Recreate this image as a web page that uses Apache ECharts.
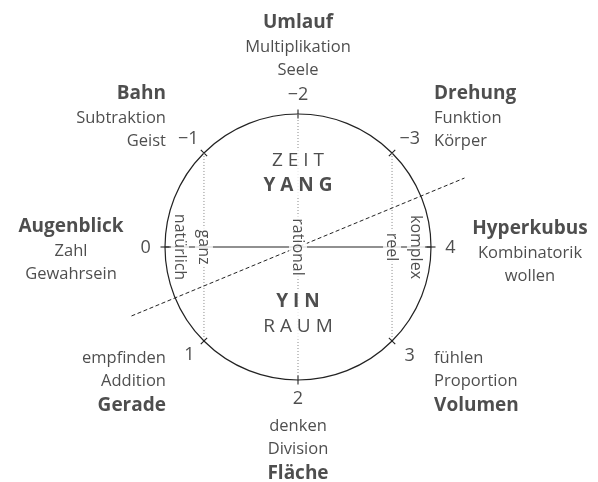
<!DOCTYPE html>
<html>
<head>
<meta charset="utf-8">
<script src="https://cdn.jsdelivr.net/npm/echarts@6/dist/echarts.min.js"></script>
<style>html,body{margin:0;padding:0;background:#fff}#c{width:598px;height:482px}</style>
</head>
<body>
<div id="c"></div>
<script>
// ---- data ----
// the eight points on the circle, clockwise starting at the left (index k -> angle 180-45k deg)
const pointLabels = ['0', '\u22121', '\u22122', '\u22123', '4', '3', '2', '1'];
const titles = ['Augenblick', 'Bahn', 'Umlauf', 'Drehung', 'Hyperkubus', 'Volumen', 'Fl\u00e4che', 'Gerade'];
const operations = ['Zahl', 'Subtraktion', 'Multiplikation', 'Funktion', 'Kombinatorik', 'Proportion', 'Division', 'Addition'];
const faculties = ['Gewahrsein', 'Geist', 'Seele', 'K\u00f6rper', 'wollen', 'f\u00fchlen', 'denken', 'empfinden'];
// chords between points (index pairs)
const dottedChords = [[1, 7], [2, 6], [3, 5]];
const solidChords = [[0, 4]];
// number sets along the horizontal diameter
const numberSets = ['nat\u00fcrlich', 'ganz', 'rational', 'reel', 'komplex'];
const numberSetX = [-0.887, -Math.SQRT1_2, 0, Math.SQRT1_2, 0.887];
// centre words
const yangWords = ['ZEIT', 'YANG'];
const yinWords = ['YIN', 'RAUM'];
const yangY = 0.556, yinY = -0.508;
// diagonal (degrees, half length in radii)
const diagonalAngle = 22.5, diagonalExtent = 1.355;

// ---- helpers ----
const FONT = '"Open Sans", "DejaVu Sans", sans-serif';
const INK = '#222';
function pt(k, r) {
  const a = (180 - 45 * k) * Math.PI / 180;
  return [r * Math.cos(a), r * Math.sin(a)];
}
function segmentSeries(segs, lineStyle, z) {
  return {
    type: 'custom', z: z, silent: true,
    data: segs,
    encode: { x: [0, 2], y: [1, 3] },
    renderItem: function (params, api) {
      const p1 = api.coord([api.value(0), api.value(1)]);
      const p2 = api.coord([api.value(2), api.value(3)]);
      return { type: 'line', shape: { x1: p1[0], y1: p1[1], x2: p2[0], y2: p2[1] }, style: lineStyle };
    }
  };
}

const chordSegs = (list) => list.map(([a, b]) => pt(a, 1).concat(pt(b, 1)));
const da = diagonalAngle * Math.PI / 180;
const diagSeg = [[-diagonalExtent * Math.cos(da), -diagonalExtent * Math.sin(da), diagonalExtent * Math.cos(da), diagonalExtent * Math.sin(da)]];

// label layout (styles)
const blockLayout = [
  { dx: -94, dy: 3, align: 'center', titleFirst: true },
  { dx: -38, dy: -36.5, align: 'right', titleFirst: true },
  { dx: 0, dy: -68.5, align: 'center', titleFirst: true },
  { dx: 42, dy: -36.5, align: 'left', titleFirst: true },
  { dx: 99, dy: 4.5, align: 'center', titleFirst: true },
  { dx: 42, dy: 41.5, align: 'left', titleFirst: false },
  { dx: 0, dy: 71, align: 'center', titleFirst: false },
  { dx: -38, dy: 41.5, align: 'right', titleFirst: false }
];
const numberOffset = [[0, 1], [-2, 0], [0, 0], [4, 0], [0, 1], [4, 1], [0, 0], [-1, 0]];
const richBlock = {
  t: { fontFamily: FONT, fontWeight: 'bold', fontSize: 19, lineHeight: 26, color: INK },
  s: { fontFamily: FONT, fontSize: 16.5, lineHeight: 23, color: INK }
};

const blockData = titles.map((t, k) => {
  const L = blockLayout[k];
  const lines = L.titleFirst
    ? ['{t|' + t + '}', '{s|' + operations[k] + '}', '{s|' + faculties[k] + '}']
    : ['{s|' + faculties[k] + '}', '{s|' + operations[k] + '}', '{t|' + t + '}'];
  return {
    value: pt(k, 1),
    label: { formatter: lines.join('\n'), offset: [L.dx, L.dy], align: L.align }
  };
});

const numberData = pointLabels.map((l, k) => ({ value: pt(k, 1.145), name: l, label: { offset: numberOffset[k] } }));
const setData = numberSets.map((n, i) => ({ value: [numberSetX[i], 0], name: n }));

const centerData = [
  { value: [0, yangY], label: { formatter: '{r|' + yangWords[0].split('').join(' ') + '}\n{b|' + yangWords[1].split('').join(' ') + '}' } },
  { value: [0, yinY], label: { formatter: '{b|' + yinWords[0].split('').join(' ') + '}\n{r|' + yinWords[1].split('').join(' ') + '}' } }
];

const W = 598, H = 482, CX = 298, CY = 247, RPX = 133;

const option = {
  animation: false,
  backgroundColor: '#fff',
  grid: { left: 0, right: 0, top: 0, bottom: 0 },
  xAxis: { type: 'value', min: -CX / RPX, max: (W - CX) / RPX, show: false },
  yAxis: { type: 'value', min: -(H - CY) / RPX, max: CY / RPX, show: false },
  series: [
    // circle
    {
      type: 'custom', z: 1, silent: true, data: [[0, 0]],
      renderItem: function (params, api) {
        const c = api.coord([0, 0]);
        const r = api.size([1, 1])[0];
        return { type: 'circle', shape: { cx: c[0], cy: c[1], r: r }, style: { fill: 'none', stroke: INK, lineWidth: 1.2 } };
      }
    },
    // radial ticks
    {
      type: 'custom', z: 1, silent: true,
      data: pointLabels.map((l, k) => pt(k, 1)),
      renderItem: function (params, api) {
        const c = api.coord([0, 0]);
        const p = api.coord([api.value(0), api.value(1)]);
        const dx = p[0] - c[0], dy = p[1] - c[1];
        const len = Math.sqrt(dx * dx + dy * dy);
        const ux = dx / len, uy = dy / len;
        return { type: 'line', shape: { x1: p[0] - 4.5 * ux, y1: p[1] - 4.5 * uy, x2: p[0] + 4.5 * ux, y2: p[1] + 4.5 * uy }, style: { stroke: INK, lineWidth: 1.1 } };
      }
    },
    segmentSeries(chordSegs(dottedChords), { stroke: '#8a8a8a', lineWidth: 1, lineDash: [1, 2] }, 1),
    segmentSeries(chordSegs(solidChords), { stroke: INK, lineWidth: 1.1 }, 1),
    segmentSeries(diagSeg, { stroke: INK, lineWidth: 1, lineDash: [4, 2.5] }, 1),
    // number sets along the diameter
    {
      type: 'scatter', z: 5, silent: true, symbolSize: 0, data: setData,
      label: {
        show: true, position: 'inside', formatter: '{b}', rotate: -90,
        fontFamily: FONT, fontSize: 16, color: INK, lineHeight: 16,
        backgroundColor: '#fff', padding: [1, 2]
      }
    },
    // centre words
    {
      type: 'scatter', z: 5, silent: true, symbolSize: 0, data: centerData,
      label: {
        show: true, position: 'inside', backgroundColor: '#fff', padding: [0, 4],
        rich: {
          r: { fontFamily: FONT, fontSize: 19, lineHeight: 25, color: INK },
          b: { fontFamily: FONT, fontSize: 19, fontWeight: 'bold', lineHeight: 25, color: INK }
        }
      }
    },
    // numbers at the points
    {
      type: 'scatter', z: 5, silent: true, symbolSize: 0, data: numberData,
      label: { show: true, position: 'inside', formatter: '{b}', fontFamily: FONT, fontSize: 18, color: INK }
    },
    // word blocks
    {
      type: 'scatter', z: 5, silent: true, symbolSize: 0, data: blockData,
      label: { show: true, position: 'inside', verticalAlign: 'middle', rich: richBlock }
    }
  ]
};

const chart = echarts.init(document.getElementById('c'), null, { renderer: 'canvas' });
chart.setOption(option);
</script>
</body>
</html>
